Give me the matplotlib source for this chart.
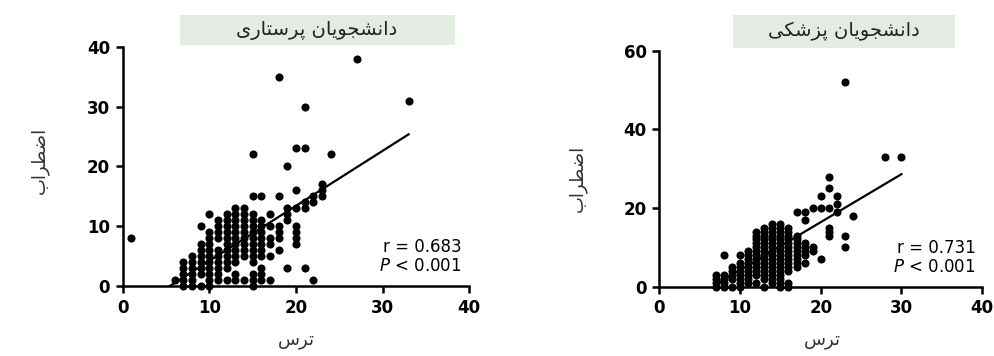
import numpy as np
import matplotlib.pyplot as plt
from matplotlib.patches import Rectangle

# Persian labels (logical order, shaped below)
title_nurse = 'دانشجویان پرستاری'
title_med = 'دانشجویان پزشکی'
x_label = 'ترس'
y_label = 'اضطراب'

# nursing students: (fear, anxiety)
nurse_points = [
    (7, 0), (8, 0), (9, 0), (10, 0), (15, 0),
    (6, 1), (7, 1), (8, 1), (10, 1), (11, 1), (12, 1), (13, 1), (14, 1), (15, 1), (16, 1), (17, 1), (22, 1),
    (7, 2), (8, 2), (9, 2), (10, 2), (11, 2), (13, 2), (15, 2), (16, 2),
    (7, 3), (8, 3), (9, 3), (10, 3), (11, 3), (12, 3), (16, 3), (19, 3), (21, 3),
    (7, 4), (8, 4), (9, 4), (10, 4), (11, 4), (12, 4), (13, 4), (15, 4),
    (8, 5), (9, 5), (10, 5), (11, 5), (12, 5), (13, 5), (14, 5), (15, 5), (16, 5), (17, 5),
    (9, 6), (10, 6), (11, 6), (12, 6), (13, 6), (14, 6), (15, 6), (16, 6), (18, 6),
    (9, 7), (10, 7), (12, 7), (13, 7), (14, 7), (15, 7), (16, 7), (17, 7), (20, 7),
    (1, 8), (10, 8), (11, 8), (12, 8), (13, 8), (14, 8), (15, 8), (16, 8), (17, 8), (18, 8), (20, 8),
    (10, 9), (11, 9), (12, 9), (13, 9), (14, 9), (15, 9), (16, 9), (18, 9), (20, 9),
    (9, 10), (11, 10), (12, 10), (13, 10), (14, 10), (15, 10), (16, 10), (17, 10), (18, 10), (20, 10),
    (11, 11), (12, 11), (13, 11), (14, 11), (15, 11), (16, 11), (19, 11),
    (10, 12), (12, 12), (13, 12), (14, 12), (15, 12), (17, 12), (19, 12),
    (13, 13), (14, 13), (19, 13), (20, 13), (21, 13),
    (21, 14), (22, 14),
    (15, 15), (16, 15), (18, 15), (22, 15), (23, 15),
    (20, 16), (23, 16), (23, 17),
    (19, 20), (15, 22), (24, 22), (20, 23), (21, 23),
    (21, 30), (33, 31), (18, 35), (27, 38),
]

# medical students: (fear, anxiety)
med_points = [
    (7, 0), (8, 0), (9, 0), (10, 0), (13, 0), (15, 0), (16, 0),
    (7, 1), (8, 1), (10, 1), (11, 1), (12, 1), (14, 1), (15, 1), (16, 1),
    (7, 2), (8, 2), (9, 2), (10, 2), (11, 2), (13, 2), (14, 2), (15, 2),
    (7, 3), (8, 3), (9, 3), (10, 3), (11, 3), (12, 3), (13, 3), (14, 3), (15, 3),
    (9, 4), (10, 4), (11, 4), (12, 4), (13, 4), (14, 4), (15, 4), (16, 4),
    (9, 5), (10, 5), (11, 5), (12, 5), (13, 5), (14, 5), (15, 5), (16, 5), (17, 5),
    (10, 6), (11, 6), (12, 6), (13, 6), (14, 6), (15, 6), (16, 6), (17, 6), (18, 6),
    (11, 7), (12, 7), (13, 7), (14, 7), (15, 7), (16, 7), (17, 7), (20, 7),
    (8, 8), (10, 8), (11, 8), (12, 8), (13, 8), (14, 8), (15, 8), (16, 8), (17, 8), (18, 8),
    (11, 9), (12, 9), (13, 9), (14, 9), (15, 9), (16, 9), (17, 9), (18, 9), (19, 9),
    (12, 10), (13, 10), (14, 10), (15, 10), (16, 10), (17, 10), (18, 10), (19, 10), (23, 10),
    (12, 11), (13, 11), (14, 11), (15, 11), (16, 11), (17, 11), (18, 11),
    (12, 12), (13, 12), (14, 12), (15, 12), (16, 12), (17, 12),
    (12, 13), (13, 13), (14, 13), (15, 13), (16, 13), (17, 13), (21, 13), (23, 13),
    (12, 14), (13, 14), (14, 14), (15, 14), (16, 14), (21, 14),
    (13, 15), (14, 15), (15, 15), (16, 15), (21, 15),
    (14, 16), (15, 16), (18, 17), (24, 18),
    (17, 19), (18, 19), (22, 19), (19, 20), (20, 20), (21, 20),
    (22, 21), (20, 23), (22, 23), (21, 25), (21, 28),
    (28, 33), (30, 33), (23, 52),
]

# regression lines: slope, intercept
nurse_fit = (0.92, -5.0)
med_fit = (1.22, -8.0)
nurse_r = '0.683'
med_r = '0.731'

# minimal Persian shaping: isolated, final, initial, medial forms
FORMS = {
    'ا': ('\uFE8D', '\uFE8E', None, None),
    'ب': ('\uFE8F', '\uFE90', '\uFE91', '\uFE92'),
    'پ': ('\uFB56', '\uFB57', '\uFB58', '\uFB59'),
    'ت': ('\uFE95', '\uFE96', '\uFE97', '\uFE98'),
    'ج': ('\uFE9D', '\uFE9E', '\uFE9F', '\uFEA0'),
    'د': ('\uFEA9', '\uFEAA', None, None),
    'ر': ('\uFEAD', '\uFEAE', None, None),
    'ز': ('\uFEAF', '\uFEB0', None, None),
    'س': ('\uFEB1', '\uFEB2', '\uFEB3', '\uFEB4'),
    'ش': ('\uFEB5', '\uFEB6', '\uFEB7', '\uFEB8'),
    'ض': ('\uFEBD', '\uFEBE', '\uFEBF', '\uFEC0'),
    'ط': ('\uFEC1', '\uFEC2', '\uFEC3', '\uFEC4'),
    'ک': ('\uFB8E', '\uFB8F', '\uFB90', '\uFB91'),
    'ن': ('\uFEE5', '\uFEE6', '\uFEE7', '\uFEE8'),
    'و': ('\uFEED', '\uFEEE', None, None),
    'ی': ('\uFBFC', '\uFBFD', '\uFBFE', '\uFBFF'),
}


def shape(text):
    out = []
    for i, ch in enumerate(text):
        if ch not in FORMS:
            out.append(ch)
            continue
        prev = text[i - 1] if i > 0 else ''
        nxt = text[i + 1] if i + 1 < len(text) else ''
        join_prev = prev in FORMS and FORMS[prev][2] is not None
        join_next = nxt in FORMS and FORMS[ch][2] is not None
        iso, fin, ini, med = FORMS[ch]
        if join_prev and join_next:
            out.append(med)
        elif join_prev:
            out.append(fin)
        elif join_next:
            out.append(ini)
        else:
            out.append(iso)
    return ''.join(reversed(out))


def style_axis(ax, ymax, ystep):
    ax.set_xlim(0, 40)
    ax.set_ylim(0, ymax)
    ax.set_xticks(range(0, 41, 10))
    ax.set_yticks(range(0, ymax + 1, ystep))
    ax.spines['top'].set_visible(False)
    ax.spines['right'].set_visible(False)
    ax.spines['left'].set_linewidth(1.8)
    ax.spines['bottom'].set_linewidth(1.8)
    ax.tick_params(width=1.8, length=5, labelsize=12, pad=4, colors='black')
    for lab in ax.get_xticklabels() + ax.get_yticklabels():
        lab.set_fontweight('bold')


def draw_panel(ax, points, fit):
    pts = np.array(points)
    ax.scatter(pts[:, 0], pts[:, 1], s=34, color='black', zorder=3, clip_on=False, linewidths=0)
    xs = np.array([pts[:, 0].min(), pts[:, 0].max()])
    ax.plot(xs, fit[0] * xs + fit[1], color='black', lw=1.6, zorder=2)


plt.rcParams['font.family'] = ['DejaVu Sans']

fig = plt.figure(figsize=(9.95, 3.56), dpi=100)
ax1 = fig.add_axes([0.1233, 0.1966, 0.3483, 0.672])
ax2 = fig.add_axes([0.6626, 0.1947, 0.3245, 0.663])

draw_panel(ax1, nurse_points, nurse_fit)
draw_panel(ax2, med_points, med_fit)
style_axis(ax1, 40, 10)
style_axis(ax2, 60, 20)

# title boxes
box_color = '#e3ebe3'
fig.patches.append(Rectangle((0.1809, 0.8736), 0.2764, 0.0843, transform=fig.transFigure,
                             facecolor=box_color, edgecolor='none'))
fig.patches.append(Rectangle((0.7367, 0.8652), 0.2231, 0.0927, transform=fig.transFigure,
                             facecolor=box_color, edgecolor='none'))
fig.text(0.3186, 0.9157, shape(title_nurse), ha='center', va='center', fontsize=14, color='#222222')
fig.text(0.8482, 0.9115, shape(title_med), ha='center', va='center', fontsize=14, color='#222222')

# axis labels
fig.text(0.040, 0.55, shape(y_label), rotation=90, ha='center', va='center', fontsize=13, color='#333333')
fig.text(0.580, 0.50, shape(y_label), rotation=90, ha='center', va='center', fontsize=13, color='#333333')
fig.text(0.2975, 0.045, shape(x_label), ha='center', va='center', fontsize=13, color='#333333')
fig.text(0.8265, 0.045, shape(x_label), ha='center', va='center', fontsize=13, color='#333333')

# statistics
for xpos, ypos, r in [(0.4643, 0.306, nurse_r), (0.981, 0.303, med_r)]:
    fig.text(xpos, ypos, 'r = ' + r, ha='right', va='center', fontsize=12)
    fig.text(xpos, ypos - 0.052, '$P$ < 0.001', ha='right', va='center', fontsize=12)

fig.savefig('out.png', dpi=100, facecolor='white')
